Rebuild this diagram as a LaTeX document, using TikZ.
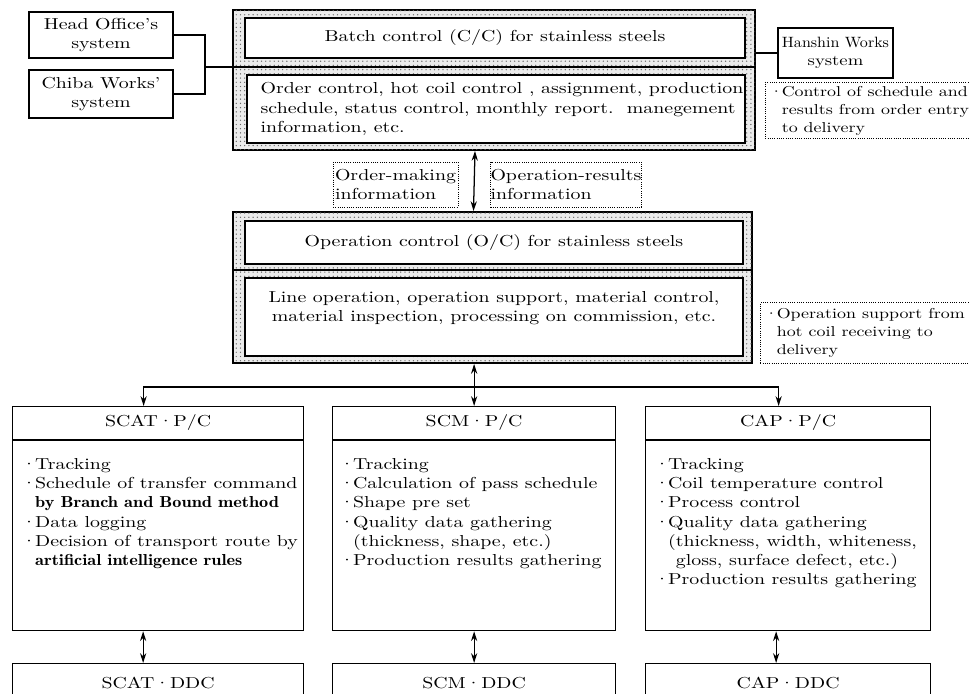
\documentclass[tikz,border=0pt]{standalone}
\usepackage{fontspec}
\setmainfont{lmroman10-regular.otf}[BoldFont=lmromandemi10-regular.otf, ItalicFont=lmroman10-italic.otf, FakeStretch=1.25]
\usetikzlibrary{arrows.meta,patterns}
\newlength{\px}
\setlength{\px}{0.025cm}
\newcommand{\pcdot}{\textperiodcentered\kern-0.1em}
\newcommand{\pcskip}{\hphantom{\textperiodcentered}\kern-0.1em}
\newcommand{\pcbold}[1]{\scalebox{0.92}[1]{\textbf{#1}}}

\begin{document}
\begin{tikzpicture}[x=0.025cm, y=-0.025cm, font=\fontsize{11.3}{13.7}\selectfont,
    sysbox/.style={rectangle, draw, line width=0.8pt, fill=white, align=center, inner sep=0pt},
    ctlframe/.style={rectangle, draw, line width=1.3pt, fill=black!8, postaction={pattern=dots, pattern color=black!60}, inner sep=0pt},
    inbox/.style={rectangle, draw, line width=0.9pt, fill=white, inner sep=0pt},
    notebox/.style={rectangle, draw, densely dotted, line width=0.6pt, inner sep=0pt},
    pcbox/.style={rectangle, draw, line width=0.9pt, fill=white, inner sep=0pt},
    txt/.style={align=left, inner sep=0pt},
    notetxt/.style={align=left, inner sep=0pt, font=\fontsize{10.2}{12.8}\selectfont},
    link/.style={line width=0.8pt},
    dbl/.style={line width=0.9pt, {Stealth[length=7pt,width=4.4pt]}-{Stealth[length=7pt,width=4.4pt]}},
    arr/.style={line width=0.9pt, -{Stealth[length=7pt,width=4.4pt]}}]
    \useasboundingbox (0,0) rectangle (969,694);
    \clip (0,0) rectangle (969,694);
    \fill[white] (0,0) rectangle (969,694);

    % Outside systems
    \node[sysbox, minimum width=144\px, minimum height=46\px] (head) at (101,35) {Head Office's\\system};
    \node[sysbox, minimum width=144\px, minimum height=48\px] (chiba) at (101,94) {Chiba Works'\\system};

    % Batch control
    \node[ctlframe, minimum width=522\px, minimum height=57\px] (ccup) at (494,38.5) {};
    \node[ctlframe, minimum width=522\px, minimum height=83\px] (cclow) at (494,108.5) {};
    \node[inbox, minimum width=500\px, minimum height=40\px] (cctitle) at (495,38) {Batch control (C/C) for stainless steels};
    \node[inbox, minimum width=498\px, minimum height=68\px] (cctask) at (496,109) {};
    \node[txt, anchor=west] at ([xshift=14\px]cctask.west) {Order control, hot coil control , assignment, production\\schedule, status control, monthly report.\ \ manegement\\information, etc.};

    \coordinate (join) at (205,67);
    \draw[link] (head.east) -| (join) |- (chiba.east);
    \draw[link] (join) -- (join -| cclow.west);

    \node[sysbox, minimum width=115\px, minimum height=50\px, font=\fontsize{10.6}{13}\selectfont] (hanshin) at (835.5,53) {\scalebox{0.86}[1]{Hanshin Works}\\system};
    \draw[link] (hanshin.west) -- (hanshin.west -| ccup.east);

    \node[notebox, minimum width=240\px, minimum height=56\px, anchor=north west] (ccnote) at (765,82) {};
    \node[notetxt, anchor=west] at ([xshift=4\px]ccnote.west) {\pcdot Control of schedule and\\\pcskip results from order entry\\\pcskip to delivery};

    % Information between C/C and O/C
    \node[notebox, align=left, minimum width=125\px, minimum height=45\px] (ordinfo) at (395.5,184.5) {Order-making\\information};
    \node[notebox, align=left, minimum width=150\px, minimum height=45\px] (resinfo) at (566,184.5) {Operation-results\\information};

    % Operation control
    \node[ctlframe, minimum width=519\px, minimum height=58\px] (ocup) at (492.5,241) {};
    \node[ctlframe, minimum width=519\px, minimum height=93\px] (oclow) at (492.5,316.5) {};
    \node[inbox, minimum width=498\px, minimum height=43\px] (octitle) at (494,242.5) {Operation control (O/C) for stainless steels};
    \node[inbox, minimum width=498\px, minimum height=78\px] (octask) at (494,317) {};
    \node[txt, align=center] at (494,308) {Line operation, operation support, material control,\\material inspection, processing on commission, etc.};

    \draw[dbl] ([xshift=-19\px]cclow.south) -- ([xshift=-19\px]ocup.north);

    \node[notebox, minimum width=240\px, minimum height=61\px, anchor=north west] (ocnote) at (760,302) {};
    \node[notetxt, anchor=west] at ([xshift=4\px]ocnote.west) {\pcdot Operation support from\\\pcskip hot coil receiving to\\\pcskip delivery};

    % Process computers
    \node[pcbox, minimum width=291\px, minimum height=224\px, anchor=north west] (scat) at (12,406) {};
    \node[pcbox, minimum width=283\px, minimum height=224\px, anchor=north west] (scm) at (332,406) {};
    \node[pcbox, minimum width=285\px, minimum height=224\px, anchor=north west] (cap) at (645,406) {};
    \draw[link] ([yshift=-34\px]scat.north west) -- ([yshift=-34\px]scat.north east);
    \draw[link] ([yshift=-34\px]scm.north west) -- ([yshift=-34\px]scm.north east);
    \draw[link] ([yshift=-34\px]cap.north west) -- ([yshift=-34\px]cap.north east);
    \node at ([yshift=-17\px]scat.north) {SCAT\textperiodcentered P/C};
    \node at ([yshift=-17\px]scm.north) {SCM\textperiodcentered P/C};
    \node at ([yshift=-17\px]cap.north) {CAP\textperiodcentered P/C};

    \node[txt, anchor=north west] at ([xshift=9\px, yshift=-52\px]scat.north west) {\pcdot Tracking\\\pcdot Schedule of transfer command\\\pcskip\pcbold{by Branch and Bound method}\\\pcdot Data logging\\\pcdot Decision of transport route by\\\pcskip\pcbold{artificial intelligence rules}};
    \node[txt, anchor=north west] at ([xshift=7\px, yshift=-52\px]scm.north west) {\pcdot Tracking\\\pcdot Calculation of pass schedule\\\pcdot Shape pre set\\\pcdot Quality data gathering\\\pcskip(thickness, shape, etc.)\\\pcdot Production results gathering};
    \node[txt, anchor=north west] at ([xshift=9\px, yshift=-52\px]cap.north west) {\pcdot Tracking\\\pcdot Coil temperature control\\\pcdot Process control\\\pcdot Quality data gathering\\\pcskip(thickness, width, whiteness,\\\pcskip\hspace*{5.5pt}gloss, surface defect, etc.)\\\pcdot Production results gathering};

    \coordinate (bus) at (473.5,387);
    \draw[dbl] (scm.north |- oclow.south) -- (scm.north);
    \draw[arr] (bus) -| ([xshift=-14.5\px]scat.north);
    \draw[arr] (bus) -| ([xshift=-9.5\px]cap.north);

    % Direct digital controllers
    \node[pcbox, minimum width=291\px, minimum height=60\px, anchor=north west] (scatddc) at (12,663) {};
    \node[pcbox, minimum width=283\px, minimum height=60\px, anchor=north west] (scmddc) at (332,663) {};
    \node[pcbox, minimum width=285\px, minimum height=60\px, anchor=north west] (capddc) at (645,663) {};
    \node at ([yshift=-20\px]scatddc.north) {SCAT\textperiodcentered DDC};
    \node at ([yshift=-20\px]scmddc.north) {SCM\textperiodcentered DDC};
    \node at ([yshift=-20\px]capddc.north) {CAP\textperiodcentered DDC};

    \draw[dbl] ([xshift=-15\px]scat.south) -- ([xshift=-15\px]scatddc.north);
    \draw[dbl] (scm.south) -- (scmddc.north);
    \draw[dbl] ([xshift=-12\px]cap.south) -- ([xshift=-12\px]capddc.north);
\end{tikzpicture}
\end{document}
